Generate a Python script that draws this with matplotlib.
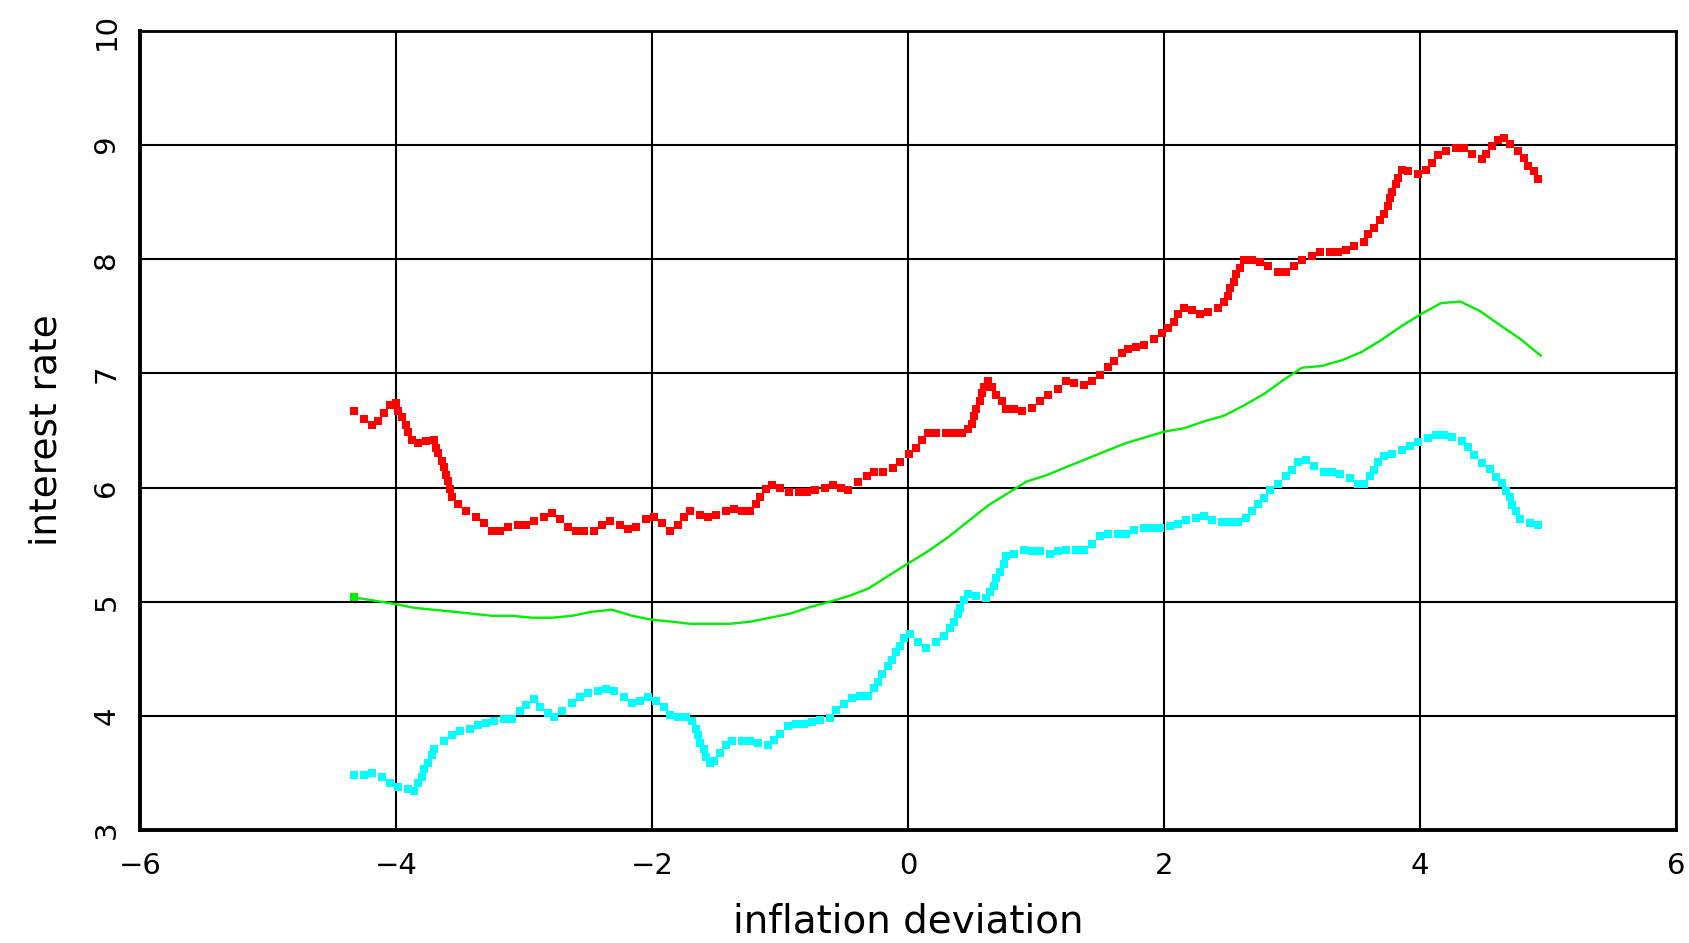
import numpy as np
import matplotlib
matplotlib.use("Agg")
import matplotlib.pyplot as plt

# 0) Values

# upper band (red, dotted)
red_x = [-4.328, -4.25, -4.188, -4.14, -4.094, -4.047, -4.0, -3.984, -3.953, -3.92,
         -3.906, -3.875, -3.828, -3.766, -3.703, -3.688, -3.67, -3.64, -3.625, -3.61,
         -3.594, -3.578, -3.563, -3.516, -3.453, -3.375, -3.313, -3.25, -3.188, -3.125,
         -3.047, -2.984, -2.922, -2.844, -2.78, -2.72, -2.656, -2.594, -2.53, -2.453,
         -2.39, -2.328, -2.25, -2.188, -2.125, -2.047, -1.984, -1.92, -1.86, -1.797,
         -1.75, -1.703, -1.625, -1.563, -1.5, -1.42, -1.36, -1.297, -1.234, -1.188,
         -1.156, -1.11, -1.063, -1.0, -0.934, -0.856, -0.793, -0.731, -0.653, -0.59,
         -0.528, -0.466, -0.388, -0.325, -0.263, -0.2, -0.122, -0.06, 0.003, 0.065,
         0.112, 0.159, 0.221, 0.299, 0.361, 0.424, 0.47, 0.502, 0.518, 0.533,
         0.564, 0.58, 0.596, 0.627, 0.658, 0.689, 0.736, 0.767, 0.83, 0.892,
         0.97, 1.033, 1.095, 1.173, 1.235, 1.298, 1.376, 1.438, 1.5, 1.563,
         1.61, 1.672, 1.719, 1.78, 1.844, 1.922, 1.984, 2.031, 2.078, 2.11,
         2.156, 2.218, 2.281, 2.343, 2.421, 2.468, 2.5, 2.515, 2.546, 2.562,
         2.593, 2.624, 2.687, 2.749, 2.811, 2.89, 2.952, 3.014, 3.077, 3.155,
         3.217, 3.295, 3.358, 3.42, 3.482, 3.56, 3.592, 3.638, 3.685, 3.716,
         3.748, 3.763, 3.779, 3.81, 3.826, 3.857, 3.904, 3.982, 4.044, 4.091,
         4.138, 4.2, 4.278, 4.34, 4.403, 4.481, 4.512, 4.559, 4.606, 4.653,
         4.7, 4.762, 4.809, 4.84, 4.887, 4.918]
red_y = [6.667, 6.597, 6.544, 6.58, 6.65, 6.72, 6.737, 6.667, 6.614, 6.544,
         6.49, 6.42, 6.386, 6.404, 6.42, 6.35, 6.30, 6.23, 6.176, 6.106,
         6.053, 5.983, 5.913, 5.86, 5.79, 5.738, 5.685, 5.615, 5.615, 5.65,
         5.668, 5.668, 5.703, 5.738, 5.773, 5.72, 5.65, 5.615, 5.615, 5.615,
         5.668, 5.703, 5.668, 5.633, 5.65, 5.72, 5.738, 5.685, 5.615, 5.668,
         5.738, 5.79, 5.755, 5.738, 5.755, 5.79, 5.81, 5.79, 5.79, 5.86,
         5.913, 5.983, 6.018, 6.0, 5.965, 5.965, 5.965, 5.98, 6.0, 6.018,
         6.0, 5.98, 6.05, 6.105, 6.14, 6.14, 6.175, 6.228, 6.298, 6.35,
         6.42, 6.474, 6.474, 6.474, 6.474, 6.474, 6.51, 6.56, 6.63, 6.684,
         6.754, 6.825, 6.877, 6.93, 6.877, 6.807, 6.754, 6.684, 6.684, 6.667,
         6.70, 6.754, 6.807, 6.86, 6.93, 6.912, 6.895, 6.93, 6.982, 7.053,
         7.105, 7.175, 7.21, 7.228, 7.246, 7.298, 7.35, 7.40, 7.455, 7.525,
         7.577, 7.56, 7.525, 7.54, 7.577, 7.63, 7.682, 7.753, 7.805, 7.875,
         7.928, 7.998, 7.998, 7.98, 7.945, 7.893, 7.893, 7.945, 7.998, 8.033,
         8.068, 8.068, 8.068, 8.086, 8.12, 8.156, 8.226, 8.278, 8.349, 8.40,
         8.47, 8.541, 8.594, 8.664, 8.717, 8.787, 8.77, 8.752, 8.787, 8.84,
         8.91, 8.945, 8.98, 8.98, 8.927, 8.875, 8.927, 8.997, 9.05, 9.067,
         9.015, 8.945, 8.892, 8.822, 8.77, 8.70]

# central estimate (green, solid)
green_x = [-4.328, -4.0, -3.86, -3.547, -3.25, -3.094, -2.938, -2.78, -2.625, -2.47,
           -2.313, -2.156, -2.0, -1.844, -1.703, -1.39, -1.234, -1.078, -0.92, -0.765,
           -0.609, -0.453, -0.312, -0.156, 0.0, 0.159, 0.315, 0.47, 0.627, 0.783,
           0.926, 1.082, 1.238, 1.394, 1.55, 1.693, 1.849, 2.0, 2.156, 2.312,
           2.468, 2.624, 2.78, 2.936, 3.077, 3.233, 3.39, 3.546, 3.701, 3.857,
           4.0, 4.161, 4.313, 4.466, 4.622, 4.778, 4.941]
green_y = [5.037, 4.978, 4.946, 4.911, 4.876, 4.876, 4.859, 4.859, 4.876, 4.911,
           4.929, 4.876, 4.841, 4.824, 4.806, 4.806, 4.824, 4.859, 4.895, 4.953,
           5.0, 5.053, 5.114, 5.225, 5.335, 5.444, 5.567, 5.705, 5.845, 5.953,
           6.053, 6.108, 6.181, 6.251, 6.322, 6.386, 6.439, 6.49, 6.52, 6.58,
           6.63, 6.72, 6.82, 6.946, 7.05, 7.066, 7.116, 7.19, 7.297, 7.417,
           7.516, 7.616, 7.63, 7.547, 7.424, 7.305, 7.156]

# lower band (cyan, dotted)
cyan_x = [-4.33, -4.252, -4.19, -4.112, -4.05, -3.987, -3.909, -3.862, -3.831, -3.8,
          -3.784, -3.753, -3.72, -3.706, -3.628, -3.566, -3.503, -3.42, -3.36, -3.297,
          -3.234, -3.156, -3.094, -3.03, -2.984, -2.92, -2.875, -2.813, -2.766, -2.703,
          -2.625, -2.563, -2.5, -2.42, -2.36, -2.297, -2.22, -2.156, -2.094, -2.03,
          -1.97, -1.906, -1.86, -1.797, -1.734, -1.688, -1.656, -1.64, -1.625, -1.594,
          -1.58, -1.547, -1.516, -1.47, -1.42, -1.375, -1.297, -1.234, -1.17, -1.094,
          -1.045, -0.999, -0.936, -0.874, -0.811, -0.749, -0.686, -0.609, -0.562, -0.499,
          -0.437, -0.375, -0.312, -0.265, -0.234, -0.203, -0.156, -0.125, -0.094, -0.062,
          -0.031, 0.016, 0.078, 0.14, 0.218, 0.281, 0.33, 0.36, 0.393, 0.408,
          0.44, 0.47, 0.533, 0.611, 0.642, 0.674, 0.69, 0.72, 0.751, 0.767,
          0.83, 0.908, 0.97, 1.033, 1.11, 1.173, 1.235, 1.313, 1.376, 1.438,
          1.5, 1.563, 1.641, 1.703, 1.766, 1.844, 1.906, 1.969, 2.047, 2.109,
          2.172, 2.25, 2.312, 2.374, 2.452, 2.515, 2.577, 2.64, 2.687, 2.733,
          2.78, 2.827, 2.889, 2.952, 2.998, 3.045, 3.108, 3.17, 3.248, 3.31,
          3.373, 3.45, 3.514, 3.56, 3.607, 3.638, 3.67, 3.716, 3.779, 3.857,
          3.919, 3.982, 4.06, 4.122, 4.185, 4.247, 4.325, 4.372, 4.419, 4.481,
          4.543, 4.59, 4.637, 4.668, 4.7, 4.715, 4.747, 4.778, 4.856, 4.918]
cyan_y = [3.479, 3.479, 3.497, 3.46, 3.409, 3.374, 3.356, 3.339, 3.409, 3.46,
          3.532, 3.584, 3.654, 3.707, 3.777, 3.83, 3.865, 3.88, 3.915, 3.933,
          3.95, 3.968, 3.968, 4.04, 4.09, 4.143, 4.073, 4.02, 3.985, 4.04,
          4.108, 4.16, 4.195, 4.213, 4.23, 4.213, 4.16, 4.108, 4.125, 4.16,
          4.125, 4.073, 4.003, 3.985, 3.985, 3.95, 3.88, 3.827, 3.757, 3.705,
          3.635, 3.582, 3.6, 3.67, 3.74, 3.775, 3.775, 3.775, 3.757, 3.74,
          3.79, 3.842, 3.912, 3.93, 3.93, 3.947, 3.965, 3.982, 4.053, 4.105,
          4.158, 4.175, 4.175, 4.246, 4.298, 4.368, 4.439, 4.49, 4.561, 4.614,
          4.684, 4.719, 4.649, 4.596, 4.649, 4.702, 4.772, 4.825, 4.895, 4.947,
          5.018, 5.07, 5.053, 5.035, 5.088, 5.14, 5.21, 5.263, 5.333, 5.404,
          5.42, 5.456, 5.44, 5.44, 5.42, 5.44, 5.456, 5.456, 5.456, 5.509,
          5.579, 5.596, 5.596, 5.596, 5.632, 5.649, 5.649, 5.649, 5.667, 5.684,
          5.719, 5.737, 5.754, 5.719, 5.702, 5.702, 5.702, 5.737, 5.79, 5.86,
          5.912, 5.982, 6.035, 6.105, 6.157, 6.228, 6.245, 6.193, 6.14, 6.14,
          6.122, 6.087, 6.035, 6.035, 6.105, 6.157, 6.228, 6.28, 6.298, 6.333,
          6.368, 6.403, 6.438, 6.458, 6.458, 6.441, 6.406, 6.353, 6.283, 6.213,
          6.161, 6.091, 6.038, 5.968, 5.915, 5.845, 5.792, 5.723, 5.688, 5.67]

x_ticks = [-6, -4, -2, 0, 2, 4, 6]
y_ticks = [3, 4, 5, 6, 7, 8, 9, 10]

# 1) Figure

plt.rcParams["font.family"] = ["DejaVu Sans"]

fig = plt.figure(figsize=(16.9, 9.43), dpi=100)
ax = fig.add_axes([0.0828, 0.120, 0.9091, 0.847])

ax.plot(red_x, red_y, linestyle="none", marker="s", markersize=5.4,
        markeredgewidth=0, color="#ff0000")
ax.plot(green_x, green_y, color="#00ee00", linewidth=1.7,
        marker="s", markersize=5.4, markeredgewidth=0, markevery=[0])
ax.plot(cyan_x, cyan_y, linestyle="none", marker="s", markersize=5.4,
        markeredgewidth=0, color="#00ffff")

# 2) Axes styling

ax.set_xlim(-6, 6)
ax.set_ylim(3, 10)
ax.set_xticks(x_ticks)
ax.set_yticks(y_ticks)
ax.set_xticklabels(["\u2212" + str(-t) if t < 0 else str(t) for t in x_ticks])
ax.grid(True, color="black", linewidth=1.5)
ax.set_axisbelow(True)
for s in ax.spines.values():
    s.set_linewidth(2.0)
ax.spines["left"].set_linewidth(2.8)
ax.spines["bottom"].set_linewidth(2.8)

ax.tick_params(axis="both", length=0, labelsize=21, labelcolor="black")
ax.tick_params(axis="x", pad=16)
ax.tick_params(axis="y", pad=14)
for lbl in ax.get_yticklabels():
    lbl.set_rotation(90)
    lbl.set_va("center")

ax.set_xlabel("inflation deviation", fontsize=28, labelpad=16)
ax.set_ylabel("interest rate", fontsize=27, labelpad=20)

fig.savefig("out.png", dpi=100)
